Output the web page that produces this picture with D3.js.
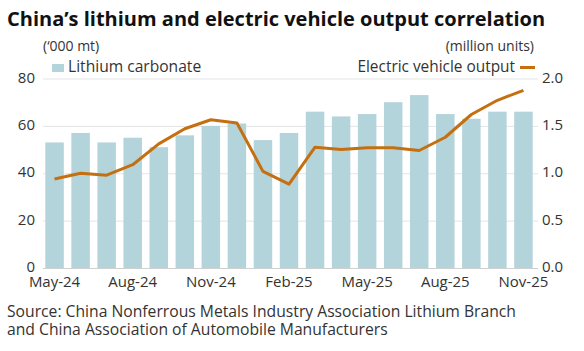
<!DOCTYPE html>
<html>
<head>
<meta charset="utf-8">
<script src="https://cdn.jsdelivr.net/npm/d3@7"></script>
<style>
  body { margin: 0; background: #fff; }
  text { font-family: "Open Sans", Roboto, sans-serif; fill: #333; }
</style>
</head>
<body>
<div id="chart"></div>
<script>
// chart.js - lithium carbonate bars + EV output line

var width = 584;
var height = 351;

var months = ["May-24", "Jun-24", "Jul-24", "Aug-24", "Sep-24", "Oct-24", "Nov-24",
  "Dec-24", "Jan-25", "Feb-25", "Mar-25", "Apr-25", "May-25", "Jun-25", "Jul-25",
  "Aug-25", "Sep-25", "Oct-25", "Nov-25"];

// '000 mt
var lithium = [53, 57, 53, 55, 51, 56, 60, 61, 54, 57, 66, 64, 65, 70, 73, 65, 63, 66, 66];

// million units
var evOutput = [0.94, 1.00, 0.98, 1.09, 1.31, 1.47, 1.565, 1.53, 1.02, 0.885,
  1.275, 1.25, 1.27, 1.27, 1.24, 1.38, 1.62, 1.77, 1.875];

var tickMonths = ["May-24", "Aug-24", "Nov-24", "Feb-25", "May-25", "Aug-25", "Nov-25"];
var leftTicks = [0, 20, 40, 60, 80];
var rightTicks = [0, 0.5, 1.0, 1.5, 2.0];

var barColor = "#b4d4dc";
var lineColor = "#c56f10";

var plotLeft = 43, plotRight = 538;

var x = d3.scaleBand()
    .domain(months)
    .range([44, 534])
    .paddingInner(0.29)
    .paddingOuter(0.05);

var yLeft = d3.scaleLinear().domain([0, 80]).range([268, 78.5]);
var yRight = d3.scaleLinear().domain([0, 2]).range([268, 78.5]);

var svg = d3.select("#chart")
    .append("svg")
    .attr("width", width)
    .attr("height", height);

// title
svg.append("text")
    .attr("x", 7)
    .attr("y", 26)
    .style("font-size", "20px")
    .style("font-weight", "bold")
    .style("fill", "#111")
    .text("China\u2019s lithium and electric vehicle output correlation");

// unit labels
svg.append("text")
    .attr("x", 43)
    .attr("y", 51)
    .style("font-size", "14px")
    .text("(\u2018000 mt)");

svg.append("text")
    .attr("x", 534)
    .attr("y", 51)
    .attr("text-anchor", "end")
    .style("font-size", "14px")
    .text("(million units)");

// gridlines
svg.append("g")
    .selectAll("line")
    .data(leftTicks)
  .enter().append("line")
    .attr("x1", plotLeft)
    .attr("x2", plotRight)
    .attr("y1", function(d) { return yLeft(d) + 0.5; })
    .attr("y2", function(d) { return yLeft(d) + 0.5; })
    .style("stroke", function(d) { return d == 0 ? "#d0d0d0" : "#e4e4e4"; })
    .style("stroke-width", 1);

// legend
svg.append("rect")
    .attr("x", 52)
    .attr("y", 64)
    .attr("width", 12)
    .attr("height", 8)
    .style("fill", barColor);

svg.append("text")
    .attr("x", 68)
    .attr("y", 72)
    .style("font-size", "15.6px")
    .text("Lithium carbonate");

svg.append("line")
    .attr("x1", 520)
    .attr("x2", 535)
    .attr("y1", 67.5)
    .attr("y2", 67.5)
    .style("stroke", lineColor)
    .style("stroke-width", 3);

svg.append("text")
    .attr("x", 515)
    .attr("y", 72)
    .attr("text-anchor", "end")
    .style("font-size", "15.4px")
    .text("Electric vehicle output");

// bars
svg.append("g")
    .selectAll("rect")
    .data(lithium)
  .enter().append("rect")
    .attr("x", function(d, i) { return x(months[i]); })
    .attr("y", function(d) { return yLeft(d); })
    .attr("width", x.bandwidth())
    .attr("height", function(d) { return yLeft(0) - yLeft(d); })
    .style("fill", barColor);

// line
var line = d3.line()
    .x(function(d, i) { return x(months[i]) + x.bandwidth() / 2; })
    .y(function(d) { return yRight(d); });

svg.append("path")
    .datum(evOutput)
    .attr("d", line)
    .style("fill", "none")
    .style("stroke", lineColor)
    .style("stroke-width", 3)
    .style("stroke-linejoin", "round");

// left axis labels
svg.append("g")
    .selectAll("text")
    .data(leftTicks)
  .enter().append("text")
    .attr("x", 35)
    .attr("y", function(d) { return yLeft(d) + 4; })
    .attr("text-anchor", "end")
    .style("font-size", "15px")
    .text(function(d) { return d; });

// right axis labels
svg.append("g")
    .selectAll("text")
    .data(rightTicks)
  .enter().append("text")
    .attr("x", 542)
    .attr("y", function(d) { return yRight(d) + 4; })
    .style("font-size", "15px")
    .text(function(d) { return d3.format(".1f")(d); });

// x axis labels
svg.append("g")
    .selectAll("text")
    .data(tickMonths)
  .enter().append("text")
    .attr("x", function(d) { return x(d) + x.bandwidth() / 2; })
    .attr("y", 287)
    .attr("text-anchor", "middle")
    .style("font-size", "15px")
    .text(function(d) { return d; });

// source
svg.append("text")
    .attr("x", 7)
    .attr("y", 317)
    .style("font-size", "15.7px")
    .text("Source: China Nonferrous Metals Industry Association Lithium Branch");

svg.append("text")
    .attr("x", 7)
    .attr("y", 334.5)
    .style("font-size", "15.7px")
    .text("and China Association of Automobile Manufacturers");
</script>
</body>
</html>
